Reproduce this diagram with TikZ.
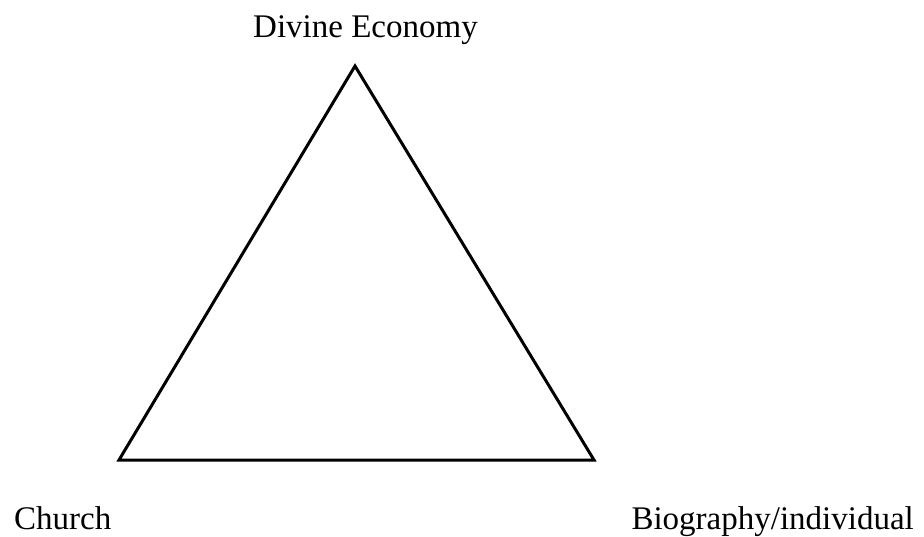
\documentclass[tikz,border=0pt]{standalone}
\usepackage{fontspec}
\setmainfont{Liberation Serif}
\begin{document}
\begin{tikzpicture}[x=1pt,y=-1pt,
  lbl/.style={inner sep=0pt,font=\fontsize{33}{38}\selectfont},
  edge/.style={line width=3pt,line join=miter}]
\useasboundingbox (0,0) rectangle (924,536);
\coordinate (top) at (355,66);
\coordinate (bl) at (119,460);
\coordinate (br) at (594,460);
\draw[edge] (top) -- (bl) -- (br) -- cycle;
\node[lbl,anchor=base west] (de) at (253,37) {Divine Economy};
\node[lbl,anchor=base west] (ch) at (14,529) {Church};
\node[lbl,anchor=base east] (bi) at (914,529) {Biography/individual};
\end{tikzpicture}
\end{document}
